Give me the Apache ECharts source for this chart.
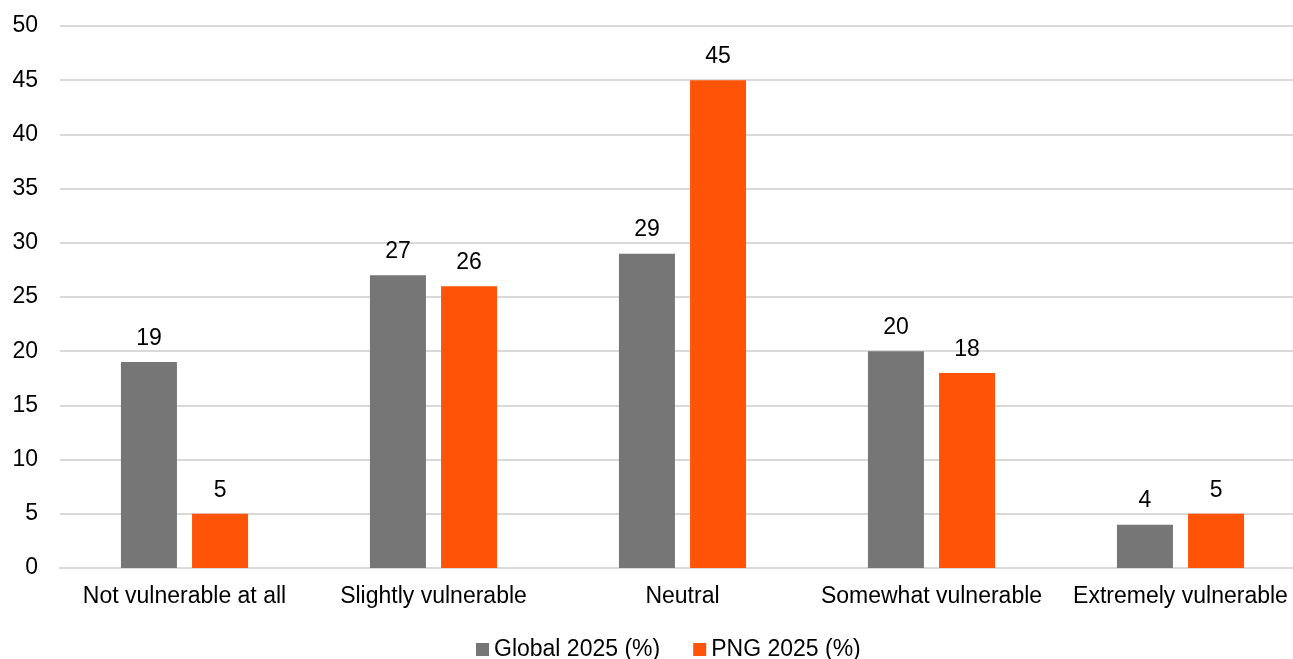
<!DOCTYPE html>
<html>
<head>
<meta charset="utf-8">
<script src="https://cdn.jsdelivr.net/npm/echarts@6/dist/echarts.min.js"></script>
<style>
  html, body { margin: 0; padding: 0; background: #ffffff; overflow: hidden; }
  #wrap { width: 1293px; height: 659px; overflow: hidden; }
  /* the plot runs slightly past the right edge of the view */
  #chart { width: 1305px; height: 659px; }
</style>
</head>
<body>
<div id="wrap"><div id="chart"></div></div>
<script>
// Perceived vulnerability, global vs PNG (2025, % of respondents)
const categories = ['Not vulnerable at all', 'Slightly vulnerable', 'Neutral', 'Somewhat vulnerable', 'Extremely vulnerable'];
const globalValues = [19, 27, 29, 20, 4];
const pngValues = [5, 26, 45, 18, 5];
const seriesNames = ['Global 2025 (%)', 'PNG 2025 (%)'];

const FONT = '"Liberation Sans", Arial, sans-serif';
const TEXT = '#000000';
const GRID_LINE = '#d9d9d9';
const FS = 23;

const chart = echarts.init(document.getElementById('chart'), null, { renderer: 'canvas' });

const labelStyle = {
  show: true,
  position: 'top',
  distance: 12,
  color: TEXT,
  fontFamily: FONT,
  fontSize: FS
};

chart.setOption({
  animation: false,
  backgroundColor: '#ffffff',
  textStyle: { fontFamily: FONT },
  grid: { left: 60, right: 0, top: 26, bottom: 91, containLabel: false },
  legend: {
    top: 633,
    left: 471,
    icon: 'rect',
    itemWidth: 13,
    itemHeight: 13,
    itemGap: 33,
    textStyle: { color: TEXT, fontFamily: FONT, fontSize: FS },
    data: seriesNames
  },
  xAxis: {
    type: 'category',
    data: categories,
    axisLine: { lineStyle: { color: GRID_LINE, width: 2 } },
    axisTick: { show: false },
    axisLabel: { color: TEXT, fontFamily: FONT, fontSize: FS, margin: 17, interval: 0 }
  },
  yAxis: {
    type: 'value',
    min: 0,
    max: 50,
    interval: 5,
    axisLine: { show: false },
    axisTick: { show: false },
    axisLabel: { color: TEXT, fontFamily: FONT, fontSize: FS, margin: 22 },
    splitLine: { lineStyle: { color: GRID_LINE, width: 2 } }
  },
  series: [
    {
      name: seriesNames[0],
      type: 'bar',
      data: globalValues,
      barWidth: 56,
      barGap: '27%',
      itemStyle: { color: '#767676' },
      label: labelStyle
    },
    {
      name: seriesNames[1],
      type: 'bar',
      data: pngValues,
      barWidth: 56,
      itemStyle: { color: '#ff5308' },
      label: labelStyle
    }
  ]
});
</script>
</body>
</html>
